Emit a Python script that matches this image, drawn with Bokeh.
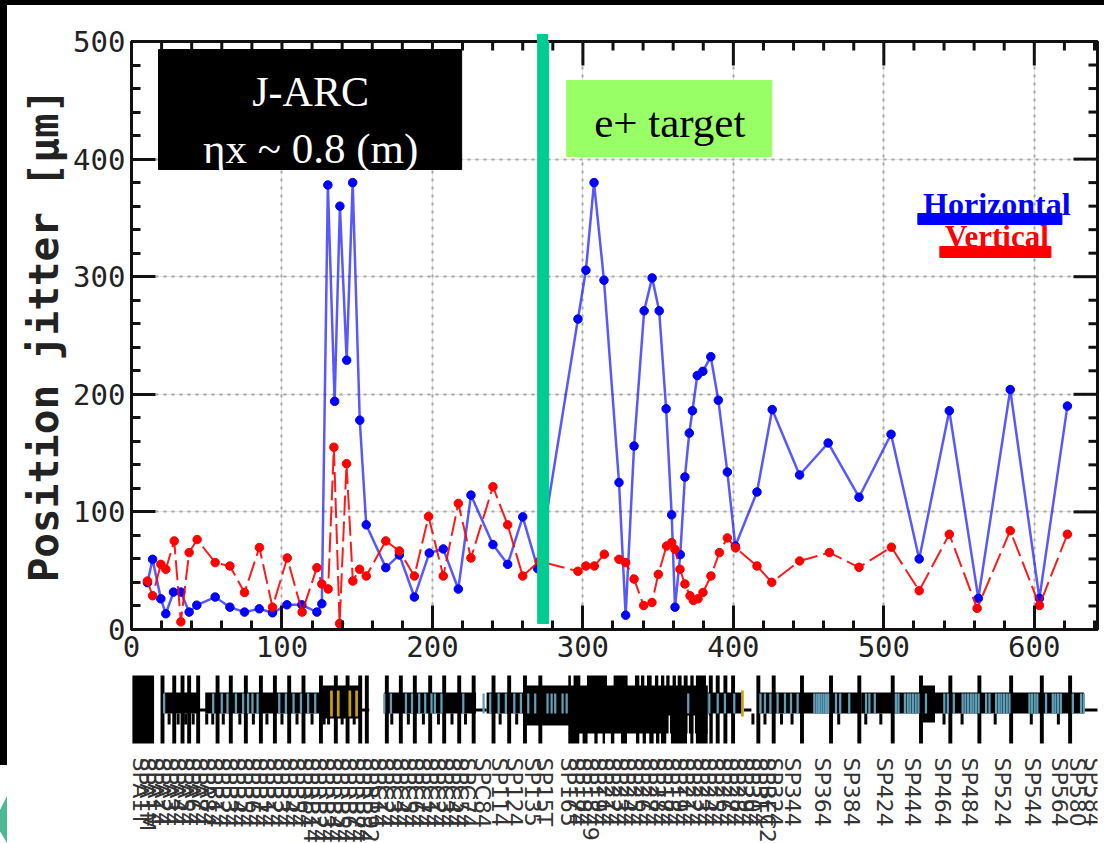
from math import pi
from bokeh.plotting import figure
from bokeh.layouts import column
from bokeh.models import Range1d, LinearAxis, SingleIntervalTicker, InlineStyleSheet, Grid
from bokeh.core.properties import value
from bokeh.embed import file_html
from bokeh.resources import INLINE

# ---- measured series -------------------------------------------------------
blue_x = [10.6,14,19.5,22.8,27.9,32.8,38.3,43.4,55.6,65.4,75.1,84.9,93.7,103.3,113.2,123.2,126.5,
          130.5,135,138.5,143,147,151.7,156,169,178,188,197.9,207.2,217.2,225.6,240.2,250,260,270,
          296.7,302,307.4,314,324,328.4,334,340.7,346,350.7,355.3,359,361.2,364.7,367.8,370.7,372.8,
          376,379.7,385,390,396,401.3,415.7,425.8,444,463,483.5,504.8,523.5,543.5,562.8,584,603.4,622]
blue_y = [39.8,59.7,26.1,13.4,31.8,31.8,14.8,20.7,27.6,19,14.8,17.6,14.2,21,21,14.8,21.9,
          378,194,360,229,380,178,89,52.6,63.4,27.6,65,68.5,34.4,114.3,72.2,55.4,95.8,51.7,
          264,305.5,380,297,125,12.2,156,271,299,271,187.7,97.5,19,63.7,129.7,167,186,
          216,219.5,232,195,133.9,71,116.9,187,131.4,158.6,112.5,166,60,186,26.5,204,26.5,190]
red_x = [10.6,14,19.5,22.8,28.4,32.8,38.3,43.6,55.6,65.4,75.1,85,93.7,103.5,113.4,123.2,126.5,130.7,
         134.5,138.3,142.9,147.1,151.6,156,169,178,188,197.4,207.2,217.2,225.6,240.2,250,260,271,
         296.7,302,307.6,314.2,324,328.4,334,340.4,345.9,350.1,355.6,359,361.2,364.5,367.8,371.2,
         373.4,376.5,379.8,385.1,390.7,396,401.5,415.7,425.5,444,463.8,483.5,505,523.5,543.5,562,584,603.4,622]
red_y = [41.2,28.7,55.4,51.2,75.3,6.5,65.4,76.5,56.9,54,31.5,69.7,19,60.8,14.8,52.6,38.7,34.4,
         155,5,141,41.2,51.2,45.5,75.3,66.8,45.5,96.1,45.5,107.2,60.8,121.4,89,45.5,58,
         49.5,54,54,64,59.7,56.9,42.9,20.4,23,46.9,71,73.9,68.2,51.2,38.7,28.7,
         24.7,26.1,31.5,45.5,65.4,77.9,69.4,54,40.1,58.3,65.4,52.9,70,33,81,18,84,20.5,81]

# ---- axis ticks -------------------------------------------------------------
x_major = [100,200,300,400,500,600]
x_minor = [20,40,60,80,120,140,160,180,220,240,260,280,320,340,360,380,420,440,460,480,520,540,560,580,620,640]
y_major = [100,200,300,400]
y_minor = [20,40,60,80,120,140,160,180,220,240,260,280,320,340,360,380,420,440,460,480]

# ---- beamline lattice (positions along the x axis) -------------------------
tall_spikes = [20.6,28.4,33.9,38.3,44.3,57.2,66,76,86,95.3,104.8,114.3,125.9,135.8,143.6,152,156.4,
               169.7,179,188.3,198.5,207.8,217.8,227.4,240.6,251,261.5,271.7,
               385,389.6,394.7,399.8,416.6,426.8,445.6,464.9,483.7,505.9,524.7,544.2,563.5,584.6,605,623.8]
mid_band_start = [22,49,156,168,236,383,416,485,534]
mid_band_end = [45,131,157,229,291,406,485,526,633]
thin_start = [44,153,228,407,633]
thin_end = [50,158,236,412,644]
thick_start = [125,262,526,290.3]
thick_end = [153,291,534,383]
thick_low = [718,725,722,733]
block_start = [0.6]
block_end = [15]
upper_start = [290.3,293.8,302.7,320.4,334.6,338.6,342.6,347.9,351.9,355.4,359.6,363,367,371.4,375.1]
upper_end = [292,298.3,316,329.7,337.5,340.8,345.7,350.1,354.1,357.6,361.8,365.6,369.6,373.6,381.8]
lower_start = [290.3,299.8,307.6,313.1,318.6,325.3,335.3,339.7,344.1,348.6,351.9,358.5,371.4,375.1]
lower_end = [297.6,303.1,309.8,314.7,320.9,329.3,337.5,341.9,347,350.8,355.4,369.2,373.6,382.9]
slits = [357.4,370,374,383.6]
short_down = [25,31,36,41,50,54,61,72,81,90,100,110,120,128,131,140,148,173,184,194,204,213,222,245,256,267,413,421,432,439,470,488,498,540,552,574,598,616]
teal_x = [21.7,54.3,60,63.8,69.4,74.2,77.5,80.4,83.8,98.2,102.6,107.7,112.6,117.4,122.1,168,172.4,182.4,186.4,191.2,195.2,
          199.4,201.6,206,220.5,234,238.4,244,248.8,254.4,258.8,263.7,268.3,276.5,279.2,281.6,286.5,289.2,
          370,384,389.6,394.4,400.6,418,421,424.6,429.4,434.3,438.3,442.7,453.8,455.4,457,458.5,460,461.6,463,468.2,471,477,
          488.2,490.4,494,508,509.7,514,515.9,517.6,519.4,521.2,523,528,540.2,542.5,546.5,552.4,554.2,556,557.8,559.5,561.2,563,
          568,570.2,574.6,576.4,578.1,579.9,581.7,583.5,596.8,598.5,600.3,602,607.8,612.3,614,615.8,617.6,625.6,631.1,632.9]
gold_x = [132.9,137.4,145.1,149.6,406]

# ---- element labels --------------------------------------------------------
names = ["SPA1T","SPA1M","SPA14","SPA24","SPA34","SPA44","SPA54","SPA64","SPA74","SPA84",
         "SPB14","SPB24","SPB34","SPB44","SPB54","SPB64","SPB74","SPB14","SPB24","SPB34","SPB44","SPB54","SPB64",
         "SPRB14","SPRB24","SPRB34","SPRB44","SPRB54","SPRB64","SPRB74","SPRB84","SPRB92",
         "SPC14","SPC24","SPC34","SPC44","SPC54","SPC64","SPC74","SPC14","SPC24","SPC34","SPC44","SPC54","SPC74",
         "SPC84","SP114","SP124","SP135","SP15T",
         "SP165","SP174","SP184","SP1849","SP194","SP214","SP224","SP234","SP244","SP254","SP264","SP274","SP284",
         "SP174","SP184","SP194","SP214","SP224","SP234","SP244","SP254","SP264","SP274","SP284","SP294","SP304",
         "SP314","SPBEC2","SP324",
         "SP344","SP364","SP384","SP424","SP444","SP464","SP484","SP524","SP544","SP564","SP580","SP584"]
name_x = [6,10.9,15.9,20.8,25.8,30.7,35.6,40.6,45.5,50.5,
          55.4,60.3,65.3,70.2,75.2,80.1,85,90,94.9,99.9,104.8,109.7,114.7,
          119.6,124.6,129.5,134.4,139.4,144.3,149.3,154.2,159.1,
          164.1,169,174,178.9,183.8,188.8,193.7,198.7,203.6,208.5,213.5,218.4,223.4,
          233.3,244.4,254.4,266.6,274.3,
          290.7,295.6,300.5,305.3,310.2,315.1,320,324.9,329.7,334.6,339.5,344.4,349.3,354.1,359,363.9,368.8,373.7,378.5,383.4,
          388.3,393.2,398.1,402.9,407.8,412.7,417.6,422.5,427.3,
          439.4,459.4,478.2,500.4,519.2,539.1,556.9,579,599,616.7,628.9,638.9]

label_font = "DejaVu Sans Mono"
X0, X1, Y0, Y1 = 0, 642, 0, 500
INK = "#111111"

def px_x(px):  # page pixel to x value, used only for the pasted-on call-outs
    return (px - 131) / 1.504
def px_y(py):
    return (629 - py) / 1.176

bands = InlineStyleSheet(css="""
:host{overflow:visible}
:host::before{content:"";position:absolute;z-index:5;left:0;top:0;width:7px;height:765px;background:#000}
:host::after{content:"";position:absolute;z-index:5;left:0;top:0;width:1104px;height:43px;pointer-events:none;
background:linear-gradient(#000,#000) 0 0/1104px 5px no-repeat,linear-gradient(#00cc92,#00cc92) 537px 34px/11px 9px no-repeat}
""")
arc = InlineStyleSheet(css="""
:host{overflow:visible}
:host::before{content:"";position:absolute;z-index:5;left:0;top:124px;width:7px;height:47px;background:#4db894;
clip-path:polygon(100% 0,100% 100%,0 75%,0 30%)}
""")

p = figure(width=1104, height=672, output_backend="svg", toolbar_location=None,
           x_range=Range1d(X0, X1), y_range=Range1d(Y0, Y1),
           min_border_left=131, min_border_right=7, min_border_top=41, min_border_bottom=43,
           x_axis_location=None, y_axis_location=None, background_fill_color="white",
           outline_line_color=INK, outline_line_width=3)
p.stylesheets = [bands]

xt = SingleIntervalTicker(interval=100, num_minor_ticks=5)
yt = SingleIntervalTicker(interval=100, num_minor_ticks=5)
for side, tick in (("below", xt), ("left", yt)):
    ax = LinearAxis(ticker=tick, major_tick_in=24, major_tick_out=0, minor_tick_in=9, minor_tick_out=0,
                    axis_line_width=3, major_tick_line_width=3, minor_tick_line_width=3,
                    axis_line_color=INK, major_tick_line_color=INK, minor_tick_line_color=INK,
                    major_label_text_font=label_font, major_label_text_font_size="29px",
                    major_label_text_color="#222222", major_label_standoff=6)
    if side == "left":
        ax.axis_label = "Position jitter [μm]"
        ax.axis_label_text_font = label_font
        ax.axis_label_text_font_style = "bold"
        ax.axis_label_text_font_size = "41px"
        ax.axis_label_text_color = "#222222"
        ax.axis_label_standoff = 2
        ax.major_label_orientation = "horizontal"
    p.add_layout(ax, side)

p.add_layout(Grid(dimension=0, ticker=xt, grid_line_color="#a8a8a8", grid_line_width=2, grid_line_dash="3 5"))
p.add_layout(Grid(dimension=1, ticker=yt, grid_line_color="#a8a8a8", grid_line_width=2, grid_line_dash="3 5"))

# mirrored ticks on the top and right frame edges (lengths as data spans of 24 and 9 pixels)
xlen_maj, xlen_min = 24 / 1.504, 9 / 1.504
ylen_maj, ylen_min = 24 / 1.176, 9 / 1.176
p.segment(x_major, [Y1]*len(x_major), x_major, [Y1-ylen_maj]*len(x_major), line_color=INK, line_width=3, level="guide")
p.segment(x_minor, [Y1]*len(x_minor), x_minor, [Y1-ylen_min]*len(x_minor), line_color=INK, line_width=3, level="guide")
p.segment([X1]*len(y_major), y_major, [X1-xlen_maj]*len(y_major), y_major, line_color=INK, line_width=3, level="guide")
p.segment([X1]*len(y_minor), y_minor, [X1-xlen_min]*len(y_minor), y_minor, line_color=INK, line_width=3, level="guide")

p.line(blue_x, blue_y, line_color="#2020ff", line_width=2.5, line_alpha=0.75)
p.scatter(blue_x, blue_y, size=8.5, color="#0000ff")
p.line(red_x, red_y, line_color="#ff0000", line_width=2, line_dash="20 6", line_alpha=0.9)
p.scatter(red_x, red_y, size=8.5, color="#ff0000")

# call-outs pasted over the plot
p.quad(left=[px_x(158)], right=[px_x(461)], top=[px_y(49)], bottom=[px_y(169)], color="black", level="overlay")
p.text([px_x(310)], [px_y(91)], ["J-ARC"], text_color="white", text_font=value("Liberation Serif"),
       text_font_size="42px", text_align="center", text_baseline="middle", level="overlay")
p.text([px_x(310)], [px_y(148)], ["ηx ~ 0.8 (m)"], text_color="white", text_font=value("Liberation Serif"),
       text_font_size="43px", text_align="center", text_baseline="middle", level="overlay")
p.quad(left=[px_x(566)], right=[px_x(771)], top=[px_y(80)], bottom=[px_y(156)], color="#99ff66", level="overlay")
p.text([px_x(669)], [px_y(122)], ["e+ target"], text_color="black", text_font=value("Liberation Serif"),
       text_font_size="43px", text_align="center", text_baseline="middle", level="overlay")
p.text([px_x(996)], [px_y(203)], ["Horizontal"], text_color="#0000ff", text_font=value("Liberation Serif"),
       text_font_size="32px", text_font_style="bold", text_align="center", text_baseline="middle", level="overlay")
p.quad(left=[px_x(917)], right=[px_x(1061)], top=[px_y(213)], bottom=[px_y(224)], color="#0000ff", level="overlay")
p.text([px_x(996)], [px_y(236)], ["Vertical"], text_color="#ff0000", text_font=value("Liberation Serif"),
       text_font_size="31px", text_font_style="bold", text_align="center", text_baseline="middle", level="overlay")
p.quad(left=[px_x(939)], right=[px_x(1050)], top=[px_y(246)], bottom=[px_y(257)], color="#ff0000", level="overlay")
p.quad(left=[px_x(537)], right=[px_x(548)], top=[Y1], bottom=[px_y(623)], color="#00cc92", level="overlay")

# ---- lattice strip ---------------------------------------------------------
lat = figure(width=1104, height=171, output_backend="svg", toolbar_location=None,
             x_range=p.x_range, y_range=Range1d(843, 672),
             min_border_left=131, min_border_right=7, min_border_top=0, min_border_bottom=0,
             x_axis_location=None, y_axis_location=None, outline_line_color=None)
lat.grid.visible = False
lat.stylesheets = [arc]

def bars(xs0, xs1, top, bottom, color="black"):
    lat.quad(left=xs0, right=xs1, top=[top]*len(xs0), bottom=[bottom]*len(xs0), color=color, line_width=0)

bars(block_start, block_end, 675, 743)
bars(mid_band_start, mid_band_end, 692, 713)
bars(thin_start, thin_end, 708, 711)
lat.quad(left=thick_start, right=thick_end, top=[685]*len(thick_start), bottom=thick_low, color="black", line_width=0)
bars(upper_start, upper_end, 675, 686)
bars(lower_start, lower_end, 732, 743)
bars([x-1.3 for x in tall_spikes], [x+1.3 for x in tall_spikes], 675, 743)
bars([x-1 for x in short_down], [x+1 for x in short_down], 713, 724)
bars([x-0.45 for x in slits], [x+0.45 for x in slits], 715, 743, "white")
bars([x-0.75 for x in teal_x], [x+0.75 for x in teal_x], 693, 713, "#5f9fb8")
bars([x-0.9 for x in gold_x], [x+0.9 for x in gold_x], 690, 716, "#c8a000")
lat.text(name_x, [757]*len(name_x), names, angle=-pi/2, text_font=value("DejaVu Sans"), text_font_size="22px",
         text_color="#333333", text_align="left", text_baseline="middle")

open("out.html", "w").write(file_html(column(p, lat, spacing=0), INLINE))
